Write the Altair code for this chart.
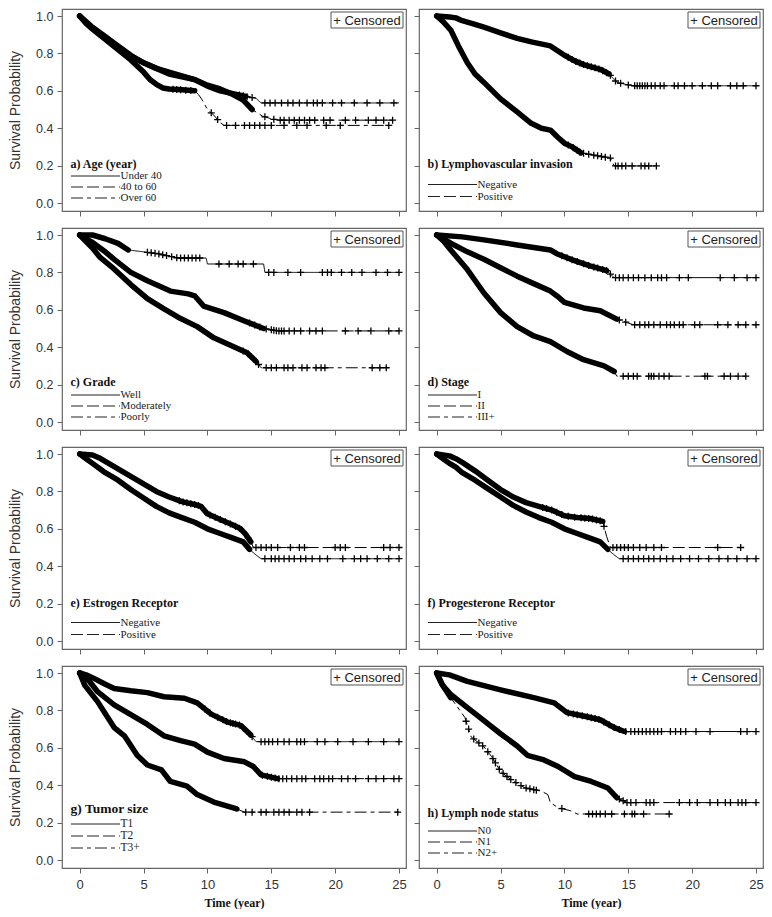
import altair as alt
import pandas as pd
import numpy as np

# ---------------- data ----------------
TIME_TICKS = [0, 5, 10, 15, 20, 25]
SURV_TICKS = [0.0, 0.2, 0.4, 0.6, 0.8, 1.0]

# a) Age
A1_T = [0, 0.5, 1, 2, 3, 4, 5, 6, 7, 8, 9, 10, 11, 12, 13, 13.8, 14.2, 25]
A1_S = [1, 0.97, 0.94, 0.89, 0.84, 0.79, 0.75, 0.72, 0.69, 0.675, 0.66, 0.625, 0.6, 0.585, 0.57, 0.56, 0.535, 0.535]
A1_C = [12.5, 12.8, 13.1, 13.5, 14.5, 14.9, 15.3, 15.8, 16.3, 16.7, 17.2, 17.8, 18.3, 18.6, 19.0, 19.8, 20.5, 21.5, 22.5, 23.5, 24.6]
A2_T = [0, 0.5, 1, 2, 3, 4, 5, 6, 7, 8, 9, 10, 11, 12, 12.8, 13.5, 14.3, 15, 15.6, 24.5]
A2_S = [1, 0.965, 0.935, 0.88, 0.83, 0.785, 0.75, 0.72, 0.7, 0.68, 0.66, 0.63, 0.61, 0.58, 0.55, 0.5, 0.465, 0.45, 0.443, 0.443]
A2_C = [14.5, 15.2, 15.7, 16.0, 16.4, 16.8, 17.2, 17.6, 18.0, 18.4, 19.1, 19.6, 20.8, 21.6, 22.6, 23.2, 23.8, 24.5]
A3_T = [0, 0.5, 1, 2, 3, 4, 5, 5.5, 6, 6.5, 7, 8, 9, 9.3, 9.6, 10, 10.5, 11, 11.3, 24.2]
A3_S = [1, 0.96, 0.93, 0.875, 0.82, 0.765, 0.7, 0.66, 0.635, 0.615, 0.61, 0.605, 0.6, 0.58, 0.55, 0.5, 0.47, 0.43, 0.415, 0.415]
A3_C = [7.3, 7.6, 7.9, 8.3, 8.7, 10.3, 10.8, 11.5, 12.2, 12.9, 13.3, 13.7, 14.1, 14.5, 15.0, 16.0, 17.0, 17.8, 19.3, 20.4, 24.2]

# b) Lymphovascular invasion
B1_T = [0, 1, 1.5, 2, 3, 3.7, 5, 6.3, 7.5, 8.9, 10, 10.8, 11.5, 12.8, 13.5, 14.1, 15.3, 25]
B1_S = [1, 0.995, 0.99, 0.975, 0.955, 0.94, 0.91, 0.88, 0.86, 0.84, 0.79, 0.76, 0.74, 0.715, 0.69, 0.645, 0.627, 0.627]
B1_C = [10.3, 10.6, 10.9, 11.2, 11.5, 11.8, 12.1, 12.4, 12.7, 13.0, 13.3, 13.6, 14.0, 14.4, 15.0, 15.5, 15.7, 15.9, 16.1,
        16.3, 16.5, 16.8, 17.1, 17.5, 17.8, 18.6, 18.9, 19.4, 20.0, 20.8, 21.5, 22.0, 23.0, 23.5, 24.0, 25.0]
B2_T = [0, 0.5, 1.1, 1.7, 2.4, 3, 3.7, 5, 6.3, 7.4, 8.2, 8.9, 9.5, 10, 10.6, 11.3, 12.8, 13.6, 13.9, 17.2]
B2_S = [1, 0.97, 0.925, 0.84, 0.75, 0.69, 0.645, 0.557, 0.487, 0.426, 0.4, 0.39, 0.35, 0.32, 0.3, 0.268, 0.25, 0.24, 0.198, 0.198]
B2_C = [10.3, 10.7, 11.0, 11.2, 11.5, 11.9, 12.3, 12.6, 12.9, 13.2, 13.6, 14.0, 14.2, 14.5, 14.8, 15.3, 16.0, 16.3, 16.6, 17.2]

# c) Grade
C1_T = [0, 1, 2, 3, 3.8, 5, 6.1, 7.7, 9.9, 10, 14.4, 14.5, 25]
C1_S = [1, 1.0, 0.98, 0.955, 0.92, 0.91, 0.9, 0.877, 0.877, 0.845, 0.845, 0.80, 0.80]
C1_C = [5.3, 5.6, 5.9, 6.2, 6.5, 6.8, 7.2, 7.6, 7.9, 8.2, 8.5, 8.8, 9.1, 9.4, 10.9, 11.7, 12.4, 12.8, 13.6, 14.8, 15.2,
        16.3, 17.3, 19.0, 19.4, 19.7, 20.5, 21.3, 22.1, 23.2, 24.1, 25.0]
C2_T = [0, 1, 2, 2.7, 4, 5.3, 7.1, 8.5, 9, 9.7, 11.3, 12.9, 14.4, 15.5, 25]
C2_S = [1, 0.96, 0.91, 0.87, 0.8, 0.755, 0.7, 0.685, 0.675, 0.62, 0.585, 0.54, 0.5, 0.487, 0.487]
C2_C = [13.3, 13.7, 14.1, 14.6, 15.0, 15.2, 15.4, 15.6, 15.8, 16.0, 16.4, 16.8, 17.3, 18.0, 18.5, 19.0, 20.8, 21.8, 22.8, 24.2, 25.0]
C3_T = [0, 1, 1.6, 2.5, 4, 5.3, 6.6, 7.9, 9.2, 10.5, 11.8, 13.1, 13.8, 14.2, 24]
C3_S = [1, 0.93, 0.88, 0.83, 0.735, 0.66, 0.605, 0.553, 0.51, 0.45, 0.41, 0.37, 0.325, 0.29, 0.29]
C3_C = [12.8, 13.2, 13.6, 14.0, 14.6, 15.0, 15.4, 16.0, 16.3, 16.7, 17.4, 17.8, 18.5, 18.9, 19.2, 22.9, 23.5, 24.0]

# d) Stage
D1_T = [0, 2, 3.7, 6.3, 8.9, 9.4, 10.5, 12, 13.3, 13.9, 25]
D1_S = [1, 0.99, 0.974, 0.947, 0.92, 0.9, 0.87, 0.835, 0.81, 0.772, 0.772]
D1_C = [9.8, 10.2, 10.6, 11.0, 11.5, 11.9, 12.3, 12.6, 13.0, 13.3, 13.6, 14.0, 14.3, 14.6, 15.0, 15.4, 15.8, 16.3, 16.8,
        17.3, 17.6, 18.0, 19.0, 19.7, 22.2, 23.3, 24.3, 25.0]
D2_T = [0, 1.1, 2.4, 3.7, 5, 6.3, 7.6, 8.9, 9.5, 10, 11.5, 12.8, 14.1, 15.4, 25]
D2_S = [1, 0.956, 0.91, 0.87, 0.825, 0.78, 0.74, 0.7, 0.67, 0.64, 0.61, 0.595, 0.55, 0.52, 0.52]
D2_C = [14.3, 14.8, 15.5, 15.9, 16.3, 16.6, 17.0, 17.5, 18.0, 18.3, 18.6, 19.0, 19.3, 20.2, 20.6, 22.0, 22.8, 23.6, 24.2, 25.0]
D3_T = [0, 0.5, 1.1, 2.4, 3.7, 5, 6.3, 7.6, 8.9, 10.2, 11.5, 13.1, 13.9, 14.1, 24.2]
D3_S = [1, 0.97, 0.92, 0.815, 0.69, 0.585, 0.51, 0.46, 0.43, 0.377, 0.333, 0.3, 0.27, 0.245, 0.245]
D3_C = [14.6, 15.0, 15.4, 15.7, 16.6, 16.8, 17.0, 17.4, 17.8, 18.2, 21.0, 21.2, 22.5, 23.0, 23.6, 24.2]

# e) Estrogen Receptor
E1_T = [0, 0.5, 1, 1.5, 2, 3, 4, 5, 6, 7, 8, 9, 10, 11, 12, 12.8, 13.3, 13.8, 14.2, 25]
E1_S = [1, 0.975, 0.95, 0.925, 0.9, 0.86, 0.81, 0.765, 0.72, 0.685, 0.66, 0.635, 0.6, 0.575, 0.55, 0.53, 0.49, 0.46, 0.44, 0.44]
E1_C = [14.5, 15.0, 15.3, 15.6, 16.0, 16.4, 16.8, 17.3, 17.7, 18.2, 18.8, 19.4, 20.6, 21.5, 22.0, 22.5, 23.3, 24.2, 25.0]
E2_T = [0, 1, 1.5, 2, 3, 4, 5, 6, 7, 8, 9, 9.5, 10, 11, 12, 12.6, 13, 13.4, 13.6, 25]
E2_S = [1, 0.995, 0.98, 0.96, 0.92, 0.88, 0.84, 0.8, 0.77, 0.745, 0.73, 0.72, 0.68, 0.65, 0.62, 0.6, 0.57, 0.53, 0.5, 0.5]
E2_C = [7.8, 8.1, 8.4, 8.7, 9.0, 9.3, 10.2, 10.6, 11.0, 11.4, 11.8, 12.2, 12.5, 12.8, 13.2, 13.8, 14.2, 14.6, 15.0,
        15.5, 16.5, 17.2, 17.6, 20.0, 20.4, 20.8, 23.8, 24.3, 25.0]

# f) Progesterone Receptor
F1_T = [0, 0.5, 1, 1.5, 2, 3, 4, 5, 6, 7, 8, 9, 10, 11, 12, 12.8, 13.4, 13.9, 14.3, 25]
F1_S = [1, 0.975, 0.95, 0.93, 0.9, 0.86, 0.815, 0.77, 0.725, 0.69, 0.66, 0.635, 0.6, 0.575, 0.55, 0.53, 0.49, 0.46, 0.44, 0.44]
F1_C = [14.6, 15.0, 15.4, 15.8, 16.2, 16.6, 17.0, 17.5, 18.0, 18.5, 19.1, 19.8, 20.5, 21.3, 22.1, 22.8, 23.5, 24.3, 25.0]
F2_T = [0, 1, 1.5, 2, 3, 4, 5, 6, 7, 8, 9, 10, 11, 12, 13, 13.3, 13.6, 24]
F2_S = [1, 0.99, 0.975, 0.955, 0.91, 0.86, 0.81, 0.77, 0.74, 0.72, 0.7, 0.67, 0.66, 0.655, 0.64, 0.56, 0.5, 0.5]
F2_C = [8.3, 8.6, 9.0, 9.4, 9.8, 10.3, 10.8, 11.3, 11.6, 11.9, 12.2, 12.5, 12.8, 13.1, 13.8, 14.1, 14.4, 14.7, 15.0,
        15.4, 15.9, 16.4, 17.0, 17.6, 22.0, 23.8]

# g) Tumor size
G1_T = [0, 0.5, 1, 2, 2.7, 4, 5.3, 6.6, 8.2, 9.2, 10.3, 11.6, 12.6, 13.4, 13.8, 25]
G1_S = [1, 0.99, 0.975, 0.94, 0.917, 0.905, 0.895, 0.873, 0.865, 0.84, 0.78, 0.737, 0.72, 0.668, 0.633, 0.633]
G1_C = [9.8, 10.2, 10.8, 11.2, 11.5, 11.8, 12.0, 12.2, 12.5, 12.8, 13.1, 13.5, 14.2, 14.5, 14.8, 15.1, 15.5, 16.0, 16.4,
        17.0, 17.3, 17.6, 18.6, 19.2, 20.2, 21.4, 22.6, 23.8, 25.0]
G2_T = [0, 0.65, 1.4, 2.7, 4, 5.3, 6.6, 7.9, 9, 10, 11.3, 12.9, 13.6, 14.2, 15.5, 25]
G2_S = [1, 0.965, 0.9, 0.83, 0.777, 0.725, 0.664, 0.638, 0.62, 0.577, 0.543, 0.525, 0.5, 0.455, 0.435, 0.435]
G2_C = [14.3, 14.7, 15.0, 15.3, 15.6, 15.9, 16.2, 16.6, 17.0, 17.4, 17.7, 18.4, 18.8, 19.1, 19.5, 19.8, 20.5, 21.0, 21.6,
        22.6, 23.2, 23.8, 24.6, 25.0]
G3_T = [0, 0.4, 1.4, 2.7, 3.5, 4.5, 5.3, 6.4, 7.1, 8.4, 9.2, 10.5, 12.3, 12.9, 25]
G3_S = [1, 0.934, 0.847, 0.708, 0.664, 0.56, 0.508, 0.482, 0.42, 0.395, 0.35, 0.31, 0.273, 0.256, 0.256]
G3_C = [13.0, 13.5, 14.2, 14.6, 15.2, 15.6, 16.0, 16.4, 17.0, 17.4, 18.0, 24.9]

# h) Lymph node status
H1_T = [0, 1, 2.4, 5, 7.6, 9.2, 10.2, 11.5, 12.8, 13.9, 14.7, 25]
H1_S = [1, 0.99, 0.955, 0.91, 0.868, 0.84, 0.788, 0.77, 0.75, 0.708, 0.687, 0.687]
H1_C = [10.3, 10.7, 11.0, 11.4, 11.8, 12.1, 12.4, 12.7, 13.1, 13.5, 13.9, 14.3, 14.8, 15.2, 15.5, 15.8, 16.1, 16.4, 16.7,
        17.0, 17.3, 17.6, 18.3, 18.7, 19.1, 19.5, 20.3, 21.4, 23.8, 24.3, 25.0]
H2_T = [0, 0.4, 1.1, 2.4, 3.7, 5, 6.3, 7.1, 8.4, 9.5, 10.8, 12.1, 13.4, 14.1, 14.9, 25]
H2_S = [1, 0.94, 0.885, 0.815, 0.745, 0.675, 0.61, 0.56, 0.535, 0.5, 0.446, 0.42, 0.385, 0.333, 0.307, 0.307]
H2_C = [14.3, 14.6, 14.9, 15.2, 15.6, 16.4, 16.7, 17.0, 19.0, 19.8, 20.4, 21.4, 22.0, 22.6, 23.0, 23.6, 23.9, 24.2, 25.0]
H3_T = [0, 0.5, 1.1, 2.2, 2.7, 3.7, 4.3, 5, 5.8, 6.9, 8.2, 8.7, 8.9, 9.5, 10.5, 11, 18.2]
H3_S = [1, 0.93, 0.868, 0.763, 0.658, 0.605, 0.553, 0.474, 0.43, 0.386, 0.368, 0.35, 0.307, 0.28, 0.263, 0.246, 0.246]
H3_C = [2.3, 2.5, 2.9, 3.3, 3.6, 4.0, 4.4, 4.6, 4.9, 5.2, 5.5, 5.8, 6.2, 6.6, 7.0, 7.3, 7.6, 7.8, 9.8, 11.9, 12.2, 12.5,
        12.8, 13.2, 13.7, 14.7, 15.3, 15.5, 16.2, 18.2]

PANEL_LABELS = ["a) Age (year)", "b) Lymphovascular invasion", "c) Grade", "d) Stage",
                "e) Estrogen Receptor", "f) Progesterone Receptor", "g) Tumor size", "h) Lymph node status"]
GROUP_NAMES = [["Under 40", "40 to 60", "Over 60"], ["Negative", "Positive"],
               ["Well", "Moderately", "Poorly"], ["I", "II", "III+"],
               ["Negative", "Positive"], ["Negative", "Positive"],
               ["T1", "T2", "T3+"], ["N0", "N1", "N2+"]]
# (knot times, survival, time up to which censor marks merge into a band, sparse censor times)
PANEL_CURVES = [
    [(A1_T, A1_S, 13, A1_C), (A2_T, A2_S, 13.5, A2_C), (A3_T, A3_S, 9, A3_C)],
    [(B1_T, B1_S, 13.5, B1_C), (B2_T, B2_S, 12, B2_C)],
    [(C1_T, C1_S, 4, C1_C), (C2_T, C2_S, 14.5, C2_C), (C3_T, C3_S, 14, C3_C)],
    [(D1_T, D1_S, 13.3, D1_C), (D2_T, D2_S, 14.5, D2_C), (D3_T, D3_S, 14, D3_C)],
    [(E1_T, E1_S, 13.5, E1_C), (E2_T, E2_S, 13.4, E2_C)],
    [(F1_T, F1_S, 13.5, F1_C), (F2_T, F2_S, 13, F2_C)],
    [(G1_T, G1_S, 13.4, G1_C), (G2_T, G2_S, 15.5, G2_C), (G3_T, G3_S, 12.3, G3_C)],
    [(H1_T, H1_S, 14.7, H1_C), (H2_T, H2_S, 14.5, H2_C), (H3_T, H3_S, 2, H3_C)],
]

# ---------------- layout / style ----------------
W, H = 344, 202
X_DOMAIN = [-1.386, 25.548]
Y_DOMAIN = [-8 / 187, 1 + 7 / 187]
SANS = "Liberation Sans"
SERIF = "Liberation Serif"
STYLES = ["solid", "dashed", "dashdot"]
DASHES = [[1, 0], [12, 4], [12, 4, 4, 4]]
CROSS = "M-1,0H1M0,-1V1"
# legend positions: px above bottom of frame (title, entries), font sizes
LEG = [
    dict(title=47, entries=[35, 24, 13], tsize=12, esize=11),
    dict(title=47, entries=[26.5, 14.5], tsize=12, esize=11),
    dict(title=48, entries=[35, 24, 13], tsize=12, esize=11),
    dict(title=48, entries=[35, 24, 13], tsize=12, esize=11),
    dict(title=46, entries=[26.5, 14.5], tsize=12, esize=11),
    dict(title=46, entries=[26.5, 14.5], tsize=12, esize=11),
    dict(title=59, entries=[44, 32, 20], tsize=13.5, esize=11.5),
    dict(title=55, entries=[37, 26, 15], tsize=12, esize=11),
]


def make_panel(idx, row, col):
    label = PANEL_LABELS[idx]
    names = GROUP_NAMES[idx]
    curves = PANEL_CURVES[idx]
    leg = LEG[idx]
    line_rows, band_rows, cens_rows = [], [], []
    for k, (T, S, dend, C) in enumerate(curves):
        for i, (t, s) in enumerate(zip(T, S)):
            line_rows.append({"curve": k, "style": STYLES[k], "t": t, "s": s, "i": i})
            if t <= dend:
                band_rows.append({"curve": k, "t": t, "s": s, "i": i})
        for c in C:
            cens_rows.append({"curve": k, "t": c, "s": float(np.interp(c, T, S))})

    bottom = row == 3
    left = col == 0
    xaxis = alt.Axis(values=TIME_TICKS, tickSize=5, domain=False, grid=False, labels=bottom,
                     labelFont=SANS, labelFontSize=13, labelColor="#333", labelPadding=5,
                     labelFlush=False, tickColor="#666",
                     titleFont=SERIF, titleFontSize=12, titleFontWeight="bold", titleColor="#111",
                     titlePadding=6)
    yaxis = alt.Axis(values=SURV_TICKS, format=".1f", tickSize=5, domain=False, grid=False, labels=left,
                     labelFont=SANS, labelFontSize=12.5, labelColor="#333", labelPadding=4,
                     labelFlush=False, tickColor="#666",
                     titleFont=SANS, titleFontSize=14, titleFontWeight="normal", titleColor="#333",
                     titlePadding=13)
    X = alt.X("t:Q", scale=alt.Scale(domain=X_DOMAIN, nice=False, zero=False), axis=xaxis,
              title="Time (year)" if bottom else None)
    Y = alt.Y("s:Q", scale=alt.Scale(domain=Y_DOMAIN, nice=False, zero=False), axis=yaxis,
              title="Survival Probability" if left else None)

    lines = alt.Chart(pd.DataFrame(line_rows)).mark_line(color="black", strokeWidth=1).encode(
        x=X, y=Y, detail="curve:N", order="i:Q",
        strokeDash=alt.StrokeDash("style:N", scale=alt.Scale(domain=STYLES, range=DASHES), legend=None))
    band = alt.Chart(pd.DataFrame(band_rows)).mark_line(
        color="black", strokeWidth=5.5, strokeJoin="round", strokeCap="round").encode(
        x=X, y=Y, detail="curve:N", order="i:Q")
    cens = alt.Chart(pd.DataFrame(cens_rows)).mark_point(
        shape=CROSS, size=49, filled=False, color="black", strokeWidth=1.3, opacity=1).encode(x=X, y=Y)

    one = pd.DataFrame({"k": [0]})
    deco = [alt.Chart(one).mark_text(align="left", baseline="middle", font=SERIF, fontSize=leg["tsize"],
                                     fontWeight="bold", color="#111").encode(
        x=alt.value(8.5), y=alt.value(H - leg["title"]), text=alt.value(label))]
    for k, name in enumerate(names):
        yv = H - leg["entries"][k]
        deco.append(alt.Chart(one).mark_rule(color="#222", strokeWidth=1, strokeDash=DASHES[k]).encode(
            x=alt.value(9), x2=alt.value(58), y=alt.value(yv)))
        deco.append(alt.Chart(one).mark_text(align="left", baseline="middle", font=SERIF,
                                             fontSize=leg["esize"], color="#222").encode(
            x=alt.value(58.5), y=alt.value(yv), text=alt.value(name)))
    deco.append(alt.Chart(one).mark_rect(fill="white", stroke="#555", strokeWidth=1).encode(
        x=alt.value(W - 75), x2=alt.value(W - 3), y=alt.value(3), y2=alt.value(19)))
    deco.append(alt.Chart(one).mark_text(align="center", baseline="middle", font=SANS, fontSize=13,
                                         color="#222").encode(
        x=alt.value(W - 39), y=alt.value(11.5), text=alt.value("+ Censored")))

    return alt.layer(lines, band, cens, *deco).properties(width=W, height=H)


rows = []
for r in range(4):
    rows.append(alt.hconcat(make_panel(2 * r, r, 0), make_panel(2 * r + 1, r, 1), spacing=5))

chart = alt.vconcat(*rows, spacing=9).properties(
    padding={"left": 0, "top": 0, "right": 0, "bottom": 0}, background="white"
).configure_view(stroke="#666", strokeWidth=1.2)

chart.save("out.html", embed_options={"renderer": "svg", "actions": False})
